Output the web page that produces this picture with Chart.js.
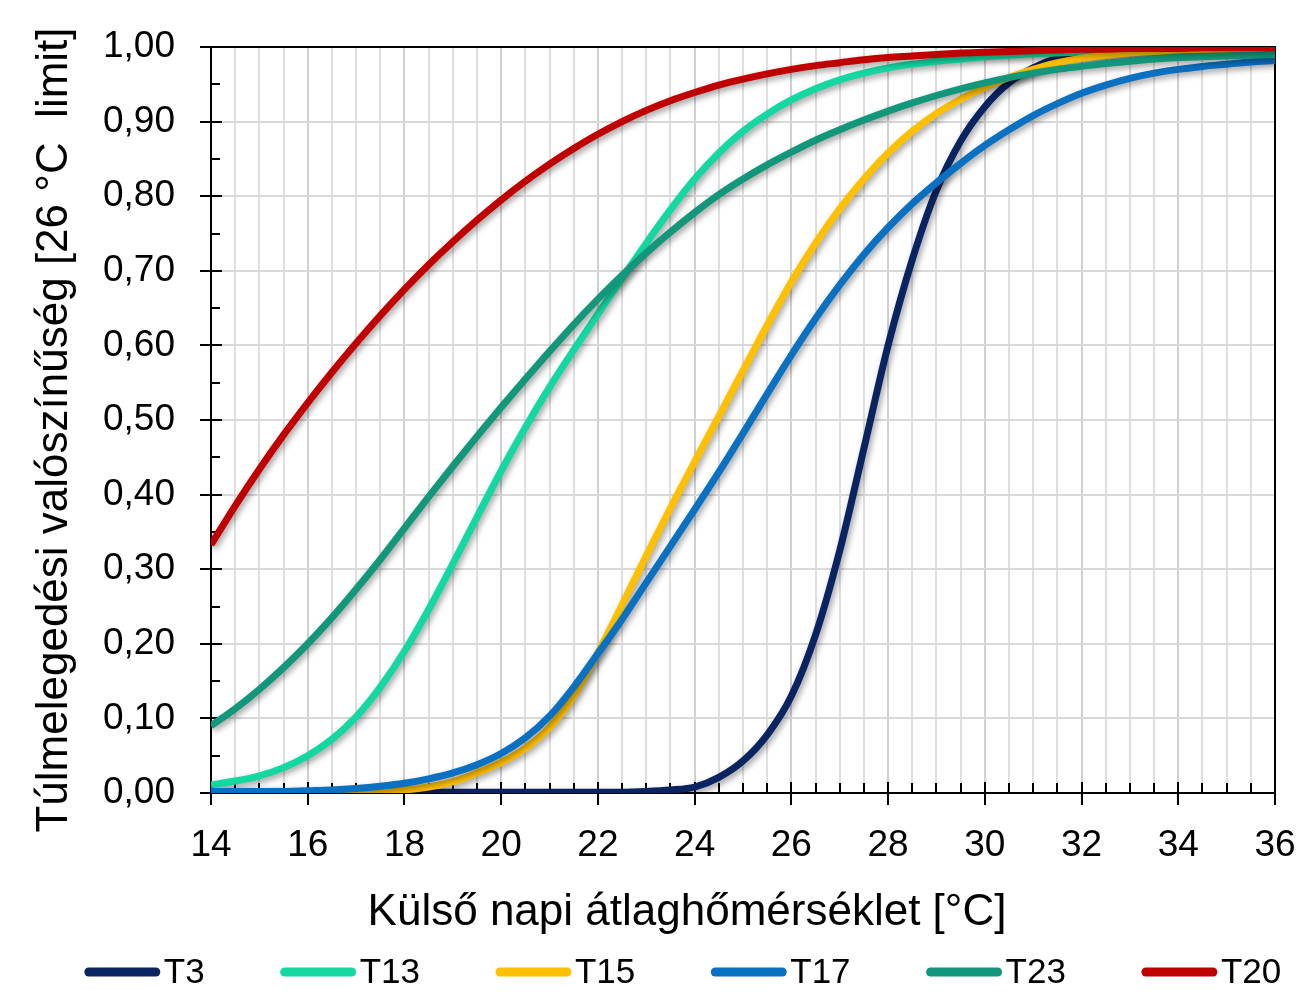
<!DOCTYPE html>
<html>
<head>
<meta charset="utf-8">
<script src="https://cdn.jsdelivr.net/npm/chart.js@4.4.1/dist/chart.umd.min.js"></script>
<style>
html,body{margin:0;padding:0;background:#ffffff;}
#wrap{width:1299px;height:999px;position:relative;}
</style>
</head>
<body>
<div id="wrap"><canvas id="c"></canvas></div>
<script>
// ---- Data ----
const xValues = [14,14.5,15,15.5,16,16.5,17,17.5,18,18.5,19,19.5,20,20.5,21,21.5,22,22.5,23,23.5,24,24.5,25,25.5,26,26.5,27,27.5,28,28.5,29,29.5,30,30.5,31,31.5,32,32.5,33,33.5,34,34.5,35,35.5,36];

const T3  = [0.001,0.001,0.001,0.001,0.001,0.001,0.001,0.001,0.001,0.001,0.001,0.001,0.001,0.001,0.001,0.001,0.001,0.001,0.002,0.004,0.008,0.021,0.043,0.078,0.130,0.212,0.325,0.462,0.600,0.715,0.808,0.874,0.920,0.952,0.972,0.985,0.992,0.995,0.997,0.998,0.999,0.999,1.000,1.000,1.000];
const T13 = [0.011,0.016,0.023,0.034,0.050,0.072,0.102,0.142,0.190,0.246,0.307,0.370,0.432,0.490,0.544,0.594,0.642,0.690,0.737,0.782,0.823,0.858,0.887,0.910,0.929,0.944,0.956,0.965,0.972,0.977,0.981,0.984,0.987,0.989,0.991,0.992,0.993,0.994,0.995,0.996,0.997,0.997,0.998,0.998,0.998];
const T15 = [0.000,0.000,0.000,0.000,0.000,0.000,0.001,0.002,0.004,0.008,0.015,0.027,0.041,0.060,0.088,0.130,0.188,0.252,0.318,0.382,0.444,0.505,0.566,0.627,0.685,0.737,0.783,0.823,0.858,0.887,0.911,0.930,0.946,0.959,0.970,0.979,0.985,0.989,0.992,0.994,0.996,0.997,0.997,0.998,0.998];
const T17 = [0.002,0.002,0.002,0.002,0.003,0.004,0.006,0.009,0.013,0.019,0.027,0.038,0.053,0.074,0.103,0.142,0.187,0.233,0.282,0.331,0.380,0.430,0.482,0.535,0.587,0.636,0.681,0.722,0.758,0.790,0.818,0.844,0.868,0.889,0.908,0.924,0.938,0.949,0.958,0.965,0.970,0.974,0.977,0.980,0.982];
const T23 = [0.090,0.113,0.139,0.168,0.200,0.235,0.273,0.313,0.355,0.397,0.438,0.478,0.517,0.555,0.592,0.628,0.662,0.694,0.724,0.752,0.778,0.802,0.823,0.842,0.859,0.875,0.889,0.902,0.914,0.925,0.935,0.944,0.952,0.959,0.965,0.970,0.974,0.978,0.981,0.984,0.986,0.987,0.988,0.989,0.990];
const T20 = [0.333,0.385,0.434,0.480,0.523,0.564,0.603,0.640,0.675,0.708,0.739,0.768,0.795,0.820,0.843,0.864,0.883,0.900,0.915,0.928,0.939,0.949,0.957,0.964,0.970,0.975,0.979,0.983,0.986,0.988,0.990,0.992,0.993,0.994,0.995,0.996,0.997,0.997,0.998,0.998,0.998,0.999,0.999,0.999,0.999];

const seriesNames  = ['T3','T13','T15','T17','T23','T20'];
const seriesValues = [T3, T13, T15, T17, T23, T20];
const seriesColors = ['#0A2361','#14D8A2','#FFC000','#0A70C2','#13977A','#C00000'];

const xTitle = 'Külső napi átlaghőmérséklet [°C]';
const yTitle = 'Túlmelegedési valószínűség [26 °C  limit]';

const FONT = '"Liberation Sans", Arial, Helvetica, sans-serif';

// ---- Plugins ----
const shadowPlugin = {
  id: 'lineShadow',
  beforeDatasetDraw(chart) {
    const c = chart.ctx;
    c.save();
    c.shadowColor = 'rgba(0,0,0,0.38)';
    c.shadowBlur = 6;
    c.shadowOffsetX = 2;
    c.shadowOffsetY = 3;
  },
  afterDatasetDraw(chart) { chart.ctx.restore(); }
};

const frameTicksPlugin = {
  id: 'frameTicks',
  beforeDatasetsDraw(chart) {
    const c = chart.ctx, a = chart.chartArea;
    const xs = chart.scales.x, ys = chart.scales.y;
    c.save();
    c.strokeStyle = '#000';
    c.lineWidth = 2;
    c.strokeRect(a.left, a.top, a.right - a.left, a.bottom - a.top);
    c.beginPath();
    for (let i = 0; i <= 20; i++) {
      const py = Math.round(ys.getPixelForValue(i * 0.05));
      if (i % 2 === 0) { c.moveTo(a.left - 11, py); c.lineTo(a.left + 11, py); }
      else { c.moveTo(a.left, py); c.lineTo(a.left + 9, py); }
    }
    for (let i = 0; i <= 44; i++) {
      const px = Math.round(xs.getPixelForValue(14 + i * 0.5));
      if (i % 4 === 0) { c.moveTo(px, a.bottom - 11); c.lineTo(px, a.bottom + 12); }
      else { c.moveTo(px, a.bottom - 10); c.lineTo(px, a.bottom); }
    }
    c.stroke();
    c.restore();
  }
};

const titlesLegendPlugin = {
  id: 'titlesLegend',
  afterDraw(chart) {
    const c = chart.ctx;
    c.save();
    c.fillStyle = '#000';
    // axis titles
    c.font = '44px ' + FONT;
    c.textAlign = 'center';
    c.textBaseline = 'alphabetic';
    c.fillText(xTitle, 687, 925);
    c.save();
    c.translate(67, 430);
    c.rotate(-Math.PI / 2);
    c.fillText(yTitle, 0, 0);
    c.restore();
    // legend
    const ds = chart.data.datasets;
    c.font = '35px ' + FONT;
    c.textBaseline = 'middle';
    c.textAlign = 'left';
    const lineLen = 75, gap = 4, spacing = 76;
    const widths = ds.map(d => lineLen + gap + c.measureText(d.label).width);
    const total = widths.reduce((s, w) => s + w, 0) + spacing * (ds.length - 1);
    let x = 683 - total / 2;
    const y = 972;
    ds.forEach((d, i) => {
      c.beginPath();
      c.lineCap = 'round';
      c.lineWidth = 9;
      c.strokeStyle = d.borderColor;
      c.moveTo(x + 4, y);
      c.lineTo(x + lineLen - 4, y);
      c.stroke();
      c.fillText(d.label, x + lineLen + gap, y + 1);
      x += widths[i] + spacing;
    });
    c.restore();
  }
};

// ---- Chart ----
const datasets = seriesNames.map((name, k) => ({
  label: name,
  data: xValues.map((x, i) => ({ x: x, y: seriesValues[k][i] })),
  borderColor: seriesColors[k],
  backgroundColor: seriesColors[k],
  borderWidth: 7,
  pointRadius: 0,
  pointHoverRadius: 0,
  fill: false,
  cubicInterpolationMode: 'monotone',
  order: seriesNames.length - k
}));

const isMajorX = v => Math.abs(v / 2 - Math.round(v / 2)) < 1e-6;

new Chart(document.getElementById('c'), {
  type: 'line',
  data: { datasets },
  options: {
    responsive: true,
    maintainAspectRatio: false,
    animation: false,
    events: [],
    layout: { padding: { left: 0, top: 47, right: 24, bottom: 0 } },
    plugins: { legend: { display: false }, tooltip: { enabled: false } },
    scales: {
      x: {
        type: 'linear',
        min: 14, max: 36,
        border: { display: false },
        grid: {
          drawTicks: false,
          color: ctx => isMajorX(ctx.tick.value) ? '#d0d0d0' : '#dfdfdf',
          lineWidth: 2
        },
        ticks: {
          stepSize: 0.5,
          autoSkip: false,
          maxRotation: 0,
          padding: 31,
          color: '#000',
          font: { family: FONT, size: 37 },
          callback: v => isMajorX(v) ? String(Math.round(v)) : ''
        },
        title: { display: false, text: xTitle },
        afterFit: s => { s.height = 206; s.paddingLeft = 0; s.paddingRight = 0; }
      },
      y: {
        type: 'linear',
        min: 0, max: 1,
        border: { display: false },
        grid: { drawTicks: false, color: '#d9d9d9', lineWidth: 2 },
        ticks: {
          stepSize: 0.1,
          padding: 36,
          color: '#000',
          font: { family: FONT, size: 37 },
          callback: v => (Math.round(v * 100) / 100).toFixed(2).replace('.', ',')
        },
        title: { display: false, text: yTitle },
        afterFit: s => { s.width = 211; s.paddingTop = 0; s.paddingBottom = 0; }
      }
    }
  },
  plugins: [shadowPlugin, frameTicksPlugin, titlesLegendPlugin]
});
</script>
</body>
</html>
